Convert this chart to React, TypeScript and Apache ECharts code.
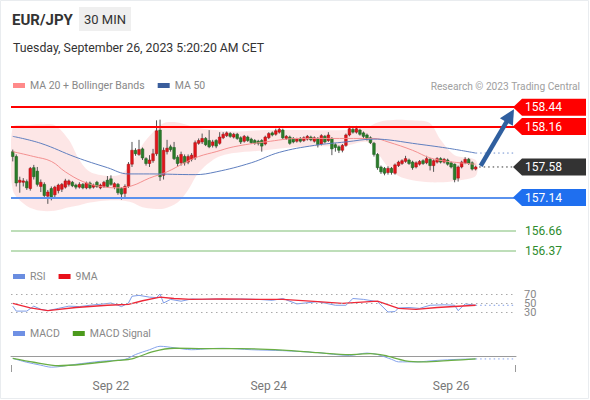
import React, { useEffect, useRef } from "react";
import * as echarts from "echarts";

// [open, high, low, close]
const CANDLES: number[][] = [
  [157.80, 157.83, 157.66, 157.73], [157.73, 157.76, 157.30, 157.35], [157.36, 157.44, 157.21, 157.39],
  [157.36, 157.42, 157.30, 157.38], [157.37, 157.40, 157.25, 157.28], [157.27, 157.58, 157.24, 157.56],
  [157.57, 157.61, 157.40, 157.44], [157.52, 157.58, 157.30, 157.33], [157.30, 157.40, 157.22, 157.36],
  [157.33, 157.36, 157.13, 157.17], [157.16, 157.25, 157.05, 157.22], [157.27, 157.30, 157.10, 157.15],
  [157.18, 157.31, 157.14, 157.29], [157.24, 157.34, 157.20, 157.32], [157.26, 157.35, 157.22, 157.33],
  [157.29, 157.41, 157.27, 157.38], [157.33, 157.40, 157.30, 157.38], [157.36, 157.38, 157.29, 157.31],
  [157.32, 157.34, 157.26, 157.29], [157.29, 157.36, 157.27, 157.33], [157.33, 157.35, 157.26, 157.28],
  [157.28, 157.37, 157.26, 157.35], [157.35, 157.37, 157.26, 157.28], [157.29, 157.34, 157.27, 157.32],
  [157.36, 157.38, 157.28, 157.30], [157.28, 157.34, 157.26, 157.32], [157.30, 157.38, 157.28, 157.36],
  [157.39, 157.45, 157.28, 157.30], [157.41, 157.46, 157.31, 157.33], [157.29, 157.36, 157.26, 157.34],
  [157.33, 157.35, 157.18, 157.21], [157.27, 157.29, 157.11, 157.19], [157.20, 157.33, 157.13, 157.30],
  [157.30, 157.65, 157.28, 157.62], [157.62, 157.94, 157.58, 157.82], [157.82, 157.85, 157.74, 157.77],
  [157.76, 157.97, 157.74, 157.83], [157.84, 157.86, 157.68, 157.71], [157.70, 157.72, 157.60, 157.63],
  [157.63, 157.75, 157.58, 157.68], [157.67, 157.84, 157.64, 157.77], [157.77, 158.25, 157.74, 158.10],
  [158.11, 158.26, 157.38, 157.44], [157.46, 157.86, 157.40, 157.82], [157.80, 157.97, 157.76, 157.85],
  [157.87, 157.90, 157.80, 157.83], [157.86, 157.94, 157.68, 157.70], [157.72, 157.75, 157.58, 157.63],
  [157.64, 157.80, 157.60, 157.76], [157.73, 157.76, 157.60, 157.64], [157.65, 157.76, 157.62, 157.73],
  [157.69, 157.78, 157.66, 157.75], [157.71, 157.96, 157.68, 157.93], [157.92, 157.99, 157.90, 157.96],
  [157.94, 158.06, 157.91, 157.99], [157.99, 158.01, 157.88, 157.90], [157.96, 158.11, 157.85, 157.87],
  [157.89, 157.97, 157.86, 157.94], [157.96, 157.98, 157.85, 157.88], [157.92, 158.08, 157.90, 158.01],
  [158.00, 158.08, 157.98, 158.05], [158.03, 158.09, 158.01, 158.07], [158.06, 158.08, 158.00, 158.02],
  [158.01, 158.07, 157.99, 158.05], [158.05, 158.07, 157.97, 157.99], [158.00, 158.02, 157.91, 157.94],
  [157.95, 158.04, 157.93, 158.02], [158.01, 158.03, 157.94, 157.96], [157.98, 158.00, 157.91, 157.93],
  [157.96, 157.98, 157.90, 157.92], [157.95, 157.97, 157.89, 157.92], [157.96, 157.98, 157.80, 157.88],
  [157.91, 158.03, 157.89, 158.01], [158.00, 158.08, 157.98, 158.06], [158.07, 158.09, 158.02, 158.04],
  [158.05, 158.13, 158.03, 158.10], [158.08, 158.16, 158.06, 158.12], [158.11, 158.13, 157.98, 158.00],
  [157.99, 158.04, 157.97, 158.02], [158.01, 158.03, 157.90, 157.92], [157.99, 158.01, 157.92, 157.94],
  [157.95, 158.00, 157.93, 157.98], [157.99, 158.01, 157.93, 157.95], [157.96, 158.02, 157.94, 158.00],
  [157.98, 158.04, 157.96, 158.02], [158.01, 158.03, 157.95, 157.97], [157.95, 158.02, 157.93, 158.00],
  [157.99, 158.01, 157.86, 157.90], [157.91, 158.05, 157.89, 158.03], [158.02, 158.04, 157.92, 157.94],
  [157.96, 158.08, 157.94, 158.04], [157.99, 158.01, 157.75, 157.84], [157.90, 157.92, 157.80, 157.86],
  [157.87, 157.89, 157.78, 157.82], [157.82, 157.91, 157.79, 157.89], [157.89, 158.06, 157.87, 158.04],
  [158.04, 158.17, 158.02, 158.13], [158.12, 158.14, 158.06, 158.08], [158.08, 158.17, 158.06, 158.13],
  [158.11, 158.13, 158.03, 158.05], [158.07, 158.09, 157.99, 158.02], [158.04, 158.06, 157.96, 157.98],
  [158.00, 158.02, 157.91, 157.93], [157.92, 157.94, 157.73, 157.76], [157.76, 157.78, 157.54, 157.57],
  [157.58, 157.60, 157.48, 157.51], [157.56, 157.58, 157.46, 157.49], [157.50, 157.59, 157.47, 157.56],
  [157.56, 157.58, 157.47, 157.50], [157.49, 157.63, 157.47, 157.61], [157.60, 157.67, 157.58, 157.65],
  [157.63, 157.69, 157.61, 157.67], [157.66, 157.74, 157.64, 157.70], [157.68, 157.70, 157.61, 157.63],
  [157.65, 157.67, 157.54, 157.57], [157.58, 157.66, 157.56, 157.64], [157.62, 157.68, 157.60, 157.66],
  [157.67, 157.69, 157.61, 157.63], [157.64, 157.74, 157.62, 157.70], [157.69, 157.71, 157.53, 157.60],
  [157.60, 157.69, 157.51, 157.67], [157.65, 157.72, 157.63, 157.70], [157.70, 157.72, 157.63, 157.65],
  [157.65, 157.71, 157.63, 157.69], [157.68, 157.70, 157.60, 157.62], [157.64, 157.66, 157.56, 157.58],
  [157.62, 157.63, 157.36, 157.40], [157.42, 157.60, 157.37, 157.58], [157.58, 157.67, 157.56, 157.65],
  [157.64, 157.72, 157.62, 157.69], [157.69, 157.71, 157.61, 157.63], [157.64, 157.66, 157.53, 157.55],
  [157.55, 157.60, 157.53, 157.58],
];
const EXTRA_SLOTS = 11;
const DAY_TICKS = [
  { index: 28, label: "Sep 22" },
  { index: 73, label: "Sep 24" },
  { index: 125, label: "Sep 26" },
];

const MA20_IDX = [0, 6, 11, 15, 20, 25, 30, 34, 39, 44, 49, 53, 58, 63, 72, 82, 95, 103, 107, 114, 119, 124, 132];
const MA20 = [157.80, 157.73, 157.66, 157.51, 157.37, 157.30, 157.28, 157.31, 157.42, 157.51, 157.64, 157.73, 157.80, 157.87, 157.94, 157.99, 157.99, 157.99, 157.94, 157.82, 157.71, 157.66, 157.62];

const BB_IDX = [0, 4, 8, 12, 16, 19, 22, 27, 31, 34, 37, 40, 43, 47, 50, 53, 58, 63, 72, 82, 95, 101, 104, 107, 110, 114, 119, 122, 126, 132];
const BB_UPPER = [158.15, 158.18, 158.19, 158.18, 157.97, 157.68, 157.51, 157.45, 157.48, 157.65, 157.90, 158.08, 158.21, 158.22, 158.18, 158.14, 158.11, 158.09, 158.11, 158.11, 158.11, 158.15, 158.22, 158.25, 158.26, 158.25, 158.21, 157.97, 157.75, 157.68];
const BB_LOWER = [157.25, 157.02, 156.95, 156.95, 157.00, 157.03, 157.07, 157.10, 157.10, 157.07, 157.00, 156.98, 156.98, 157.07, 157.25, 157.50, 157.71, 157.78, 157.82, 157.87, 157.89, 157.94, 157.78, 157.58, 157.45, 157.39, 157.36, 157.36, 157.38, 157.45];

const MA50_IDX = [0, 8, 18, 27, 33, 39, 52, 58, 68, 76, 86, 95, 103, 107, 114, 124, 132];
const MA50 = [158.02, 157.92, 157.72, 157.57, 157.48, 157.48, 157.47, 157.51, 157.64, 157.79, 157.89, 157.94, 157.98, 157.97, 157.92, 157.85, 157.78];

const RESISTANCES = [158.44, 158.16];
const SUPPORTS = [157.14, 156.66, 156.37];

const RSI_IDX = [0, 1, 4, 6, 8, 10, 13, 16, 19, 22, 26, 28, 30, 31, 33, 34, 36, 39, 41, 42, 43, 45, 48, 51, 54, 58, 61, 65, 70, 74, 77, 81, 87, 92, 95, 97, 100, 104, 107, 109, 110, 113, 116, 119, 123, 126, 127, 129, 132];
const RSI = [43, 32, 32, 43, 36, 33, 38, 43, 42, 45, 48, 50, 45, 42, 50, 65, 67, 63, 62, 70, 50, 58, 54, 59, 58, 59, 58, 59, 58, 56, 60, 48, 53, 45, 45, 60, 58, 53, 30, 31, 39, 40, 38, 45, 46, 45, 33, 48, 45];
const RSI_MA_IDX = [0, 5, 10, 18, 27, 33, 37, 42, 46, 51, 60, 70, 77, 87, 94, 104, 110, 115, 121, 132];
const RSI_MA = [49, 39, 33, 40, 45, 47, 55, 63, 60, 58, 59, 58, 58, 53, 49, 54, 38, 36, 40, 45];
const RSI_LEVELS = [70, 50, 30];

const MACD_IDX = [0, 4, 8, 11, 18, 25, 32, 35, 39, 42, 46, 51, 56, 60, 68, 77, 87, 96, 101, 104, 108, 110, 115, 121, 127, 132];
const MACD = [-0.018, -0.047, -0.069, -0.084, -0.062, -0.04, -0.025, 0.011, 0.047, 0.073, 0.062, 0.047, 0.055, 0.058, 0.047, 0.04, 0.025, 0.004, 0.022, 0.011, -0.025, -0.044, -0.044, -0.033, -0.025, -0.022];
const SIGNAL_IDX = [0, 6, 13, 20, 30, 34, 40, 46, 55, 65, 77, 87, 96, 102, 106, 112, 117, 125, 132];
const SIGNAL = [-0.018, -0.047, -0.073, -0.062, -0.033, -0.022, 0.033, 0.058, 0.055, 0.055, 0.044, 0.025, 0.011, 0.018, 0.004, -0.036, -0.044, -0.033, -0.022];

const FONT = 'Roboto, "Liberation Sans", Arial, sans-serif';
const pairs = (idx: number[], vals: number[]) => idx.map((x, k) => [x, vals[k]]);

export default function App() {
  const ref = useRef<HTMLDivElement>(null);
  useEffect(() => {
    const el = ref.current!;
    const chart = echarts.init(el, null, { renderer: "svg" });
    const N = CANDLES.length;
    const TOTAL = N + EXTRA_SLOTS;
    const cats = Array.from({ length: TOTAL }, (_, i) => {
      const d = DAY_TICKS.find((t) => t.index === i);
      return d ? d.label : "";
    });
    const last = N - 1;
    const lastClose = CANDLES[last][3];
    const endX = TOTAL - 1;

    const grids = [
      { left: 11, top: 96, width: 505, height: 167 },
      { left: 11, top: 289.5, width: 505, height: 27 },
      { left: 11, top: 340, width: 505, height: 32 },
    ];
    const xAxes = grids.map((_, gi) => ({
      type: "category",
      gridIndex: gi,
      data: cats,
      boundaryGap: true,
      show: gi === 2,
      axisLine: { show: gi === 2, lineStyle: { color: "#9a9a9a", width: 1 } },
      axisTick: { show: false },
      splitLine: { show: false },
      axisLabel: { interval: 0, color: "#777", fontSize: 12, margin: 8, fontFamily: FONT },
    }));
    const yAxes = [
      { gridIndex: 0, type: "value", min: 156.2, max: 158.6, show: false },
      { gridIndex: 1, type: "value", min: 20, max: 80, show: false },
      { gridIndex: 2, type: "value", min: -0.12, max: 0.12, show: false },
    ];

    const dotted = (name: string, xi: number, data: number[][], color: string) => ({
      type: "line", name, xAxisIndex: xi, yAxisIndex: xi, data, symbol: "none", silent: true,
      lineStyle: { color, width: 1, type: [1.5, 3] }, itemStyle: { color }, z: 3,
    });

    const levelLines = [
      ...RESISTANCES.map((v) => ({ yAxis: v, lineStyle: { color: "#ff0000", width: 2, type: "solid" } })),
      { yAxis: SUPPORTS[0], lineStyle: { color: "#5a92ee", width: 2, type: "solid" } },
      ...SUPPORTS.slice(1).map((v) => ({ yAxis: v, lineStyle: { color: "#a9d3a2", width: 1.5, type: "solid" } })),
    ];

    const legendBase = {
      left: 13, padding: 0, icon: "rect", itemWidth: 12, itemHeight: 5, itemGap: 13, selectedMode: false,
      textStyle: { color: "#888", fontSize: 10.5 },
    };

    const option: any = {
      animation: false,
      textStyle: { fontFamily: FONT },
      grid: grids,
      xAxis: xAxes,
      yAxis: yAxes,
      legend: [
        { ...legendBase, top: 80, data: ["MA 20 + Bollinger Bands", "MA 50"] },
        { ...legendBase, top: 271, data: ["RSI", "9MA"] },
        { ...legendBase, top: 328, data: ["MACD", "MACD Signal"] },
      ],
      series: [
        {
          type: "custom", name: "bands", xAxisIndex: 0, yAxisIndex: 0, silent: true, z: 1,
          data: [[0, BB_UPPER[0]]], encode: { x: 0, y: 1 }, clip: true,
          renderItem: (_p: any, api: any) => {
            const up = BB_IDX.map((x, k) => api.coord([x, BB_UPPER[k]]));
            const lo = BB_IDX.map((x, k) => api.coord([x, BB_LOWER[k]])).reverse();
            return { type: "polygon", shape: { points: up.concat(lo), smooth: 0.3 }, style: { fill: "rgba(248,165,165,0.28)" } };
          },
        },
        {
          type: "custom", name: "candles", xAxisIndex: 0, yAxisIndex: 0, silent: true, z: 2,
          data: CANDLES.map((c, i) => [i, c[0], c[1], c[2], c[3]]),
          encode: { x: 0, y: [1, 2, 3, 4] },
          renderItem: (_p: any, api: any) => {
            const i = api.value(0), o = api.value(1), h = api.value(2), l = api.value(3), c = api.value(4);
            const pO = api.coord([i, o]), pC = api.coord([i, c]), pH = api.coord([i, h]), pL = api.coord([i, l]);
            const w = api.size([1, 0])[0] * 0.76;
            const up = c >= o;
            const top = Math.min(pO[1], pC[1]);
            const hgt = Math.max(1, Math.abs(pO[1] - pC[1]));
            return {
              type: "group",
              children: [
                { type: "line", shape: { x1: pO[0], y1: pH[1], x2: pO[0], y2: pL[1] }, style: { stroke: "#555", lineWidth: 1 } },
                { type: "rect", shape: { x: pO[0] - w / 2, y: top, width: w, height: hgt },
                  style: { fill: up ? "#e3141b" : "#2a7d2a", stroke: up ? "#a01010" : "#1b5a1b", lineWidth: 0.5 } },
              ],
            };
          },
        },
        {
          type: "line", name: "MA 20 + Bollinger Bands", xAxisIndex: 0, yAxisIndex: 0, z: 3, silent: true,
          data: pairs(MA20_IDX, MA20), symbol: "none", smooth: 0.4,
          lineStyle: { color: "#f39090", width: 1 }, itemStyle: { color: "#ff8a8a" },
          markLine: { silent: true, symbol: "none", label: { show: false }, data: levelLines },
        },
        {
          type: "line", name: "MA 50", xAxisIndex: 0, yAxisIndex: 0, z: 3, silent: true,
          data: pairs(MA50_IDX, MA50), symbol: "none", smooth: 0.4,
          lineStyle: { color: "#5f7fbf", width: 1 }, itemStyle: { color: "#3a5e9c" },
        },
        dotted("ma50ext", 0, [[last, MA50[MA50.length - 1]], [endX, MA50[MA50.length - 1]]], "#6d8fd0"),
        dotted("priceext", 0, [[last + 1, lastClose], [endX, lastClose]], "#333"),
        {
          type: "line", name: "RSI", xAxisIndex: 1, yAxisIndex: 1, z: 3, silent: true,
          data: pairs(RSI_IDX, RSI), symbol: "none",
          lineStyle: { color: "#7f9de8", width: 1 }, itemStyle: { color: "#6a8de0" },
          markLine: {
            silent: true, symbol: "none",
            lineStyle: { color: "#aaa", width: 1, type: [1.5, 3.5] },
            label: { show: true, position: "end", distance: 8, color: "#888", fontSize: 11, lineHeight: 9, formatter: "{c}" },
            data: RSI_LEVELS.map((v) => ({ yAxis: v })),
          },
        },
        {
          type: "line", name: "9MA", xAxisIndex: 1, yAxisIndex: 1, z: 4, silent: true,
          data: pairs(RSI_MA_IDX, RSI_MA), symbol: "none",
          lineStyle: { color: "#ee2838", width: 1.3 }, itemStyle: { color: "#e8101a" },
        },
        dotted("rsiext", 1, [[last, RSI[RSI.length - 1]], [endX, RSI[RSI.length - 1]]], "#7f9de8"),
        {
          type: "line", name: "MACD", xAxisIndex: 2, yAxisIndex: 2, z: 3, silent: true,
          data: pairs(MACD_IDX, MACD), symbol: "none", smooth: 0.3,
          lineStyle: { color: "#86a4ec", width: 1 }, itemStyle: { color: "#6f90e4" },
          markLine: {
            silent: true, symbol: "none",
            lineStyle: { opacity: 0 },
            label: { show: true, position: "end", distance: 8, color: "#888", fontSize: 12, formatter: "{c}" },
            data: [{ yAxis: 0 }],
          },
        },
        {
          type: "line", name: "MACD Signal", xAxisIndex: 2, yAxisIndex: 2, z: 4, silent: true,
          data: pairs(SIGNAL_IDX, SIGNAL), symbol: "none", smooth: 0.3,
          lineStyle: { color: "#6aae45", width: 1.3 }, itemStyle: { color: "#4c9a1c" },
        },
        dotted("macdext", 2, [[last, MACD[MACD.length - 1]], [endX, MACD[MACD.length - 1]]], "#86a4ec"),
      ],
    };
    chart.setOption(option);

    const yPix = (v: number) => chart.convertToPixel({ yAxisIndex: 0 } as any, v) as number;
    const gx0 = grids[0].left;
    const gx1 = grids[0].left + grids[0].width;
    const gb = grids[2].top + grids[2].height;

    const tag = (v: number, color: string) => {
      const y = yPix(v);
      return [
        { type: "polygon", shape: { points: [[gx1 - 3, y], [gx1 + 6, y - 8.5], [586, y - 8.5], [586, y + 8.5], [gx1 + 6, y + 8.5]] },
          style: { fill: color }, z: 20 },
        { type: "text", x: 525, y, style: { text: v.toFixed(2), fill: "#fff", fontSize: 12, fontFamily: FONT, verticalAlign: "middle", align: "left" }, z: 21 },
      ];
    };
    const plain = (v: number) => ({
      type: "text", x: 525, y: yPix(v),
      style: { text: v.toFixed(2), fill: "#2e8b2e", fontSize: 12, fontFamily: FONT, verticalAlign: "middle", align: "left" }, z: 21,
    });

    const start = chart.convertToPixel({ gridIndex: 0 } as any, [last, lastClose]) as number[];
    const sx = start[0] + 5, sy = start[1] - 1;
    const tx = gx1 - 2, ty = yPix(RESISTANCES[0]) + 2;
    const dx = tx - sx, dy = ty - sy;
    const len = Math.sqrt(dx * dx + dy * dy);
    const ux = dx / len, uy = dy / len;
    const hl = 15, hw = 7.5;
    const bx = tx - ux * hl, by = ty - uy * hl;

    const graphic: any[] = [
      { type: "rect", shape: { x: 0.5, y: 0.5, width: 588, height: 398 }, style: { fill: "none", stroke: "#e9ecef", lineWidth: 1 }, silent: true },
      { type: "text", x: 12, y: 20, style: { text: "EUR/JPY", fill: "#333", fontSize: 15, fontWeight: "bold", fontFamily: FONT, verticalAlign: "middle" } },
      { type: "rect", shape: { x: 79, y: 7, width: 52, height: 24 }, style: { fill: "#efefef" } },
      { type: "text", x: 105, y: 19, style: { text: "30 MIN", fill: "#333", fontSize: 13, fontFamily: FONT, align: "center", verticalAlign: "middle" } },
      { type: "text", x: 13, y: 48, style: { text: "Tuesday, September 26, 2023 5:20:20 AM CET", fill: "#333", fontSize: 12.3, fontFamily: FONT, verticalAlign: "middle" } },
      { type: "text", x: 580, y: 86, style: { text: "Research © 2023 Trading Central", fill: "#a0a0a0", fontSize: 10.2, fontFamily: FONT, align: "right", verticalAlign: "middle" } },
      ...RESISTANCES.flatMap((v) => tag(v, "#ff0000")),
      ...tag(lastClose, "#333333"),
      ...tag(SUPPORTS[0], "#1f6fef"),
      ...SUPPORTS.slice(1).map(plain),
      { type: "line", shape: { x1: sx, y1: sy, x2: bx + ux * 2, y2: by + uy * 2 }, style: { stroke: "#2f5f9f", lineWidth: 4.5 }, z: 22 },
      { type: "polygon", shape: { points: [[tx, ty], [bx - uy * hw, by + ux * hw], [bx + uy * hw, by - ux * hw]] }, style: { fill: "#2f5f9f" }, z: 22 },
      { type: "line", shape: { x1: gx0 + 0.5, y1: gb - 7, x2: gx0 + 0.5, y2: gb }, style: { stroke: "#9a9a9a", lineWidth: 1 } },
      { type: "line", shape: { x1: gx1 - 0.5, y1: gb - 7, x2: gx1 - 0.5, y2: gb }, style: { stroke: "#9a9a9a", lineWidth: 1 } },
    ];
    chart.setOption({ graphic });

    return () => chart.dispose();
  }, []);
  return (
    <div
      ref={ref}
      style={{ position: "absolute", left: 0, top: 0, width: 590, height: 400, background: "#fff" }}
    />
  );
}
